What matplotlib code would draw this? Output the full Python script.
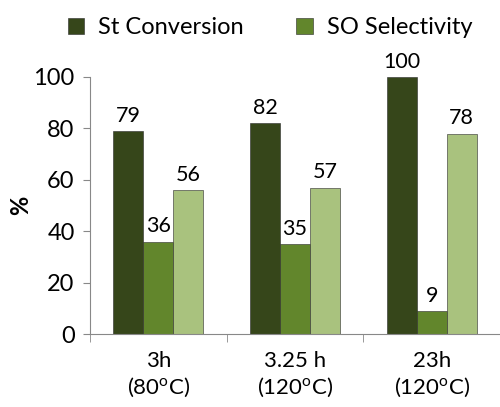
import numpy as np
import matplotlib.pyplot as plt

plt.rcParams['font.family'] = ['Lato', 'DejaVu Sans']
plt.rcParams['mathtext.default'] = 'regular'

groups = ['3h\n(80$^{o}$C)', '3.25 h\n(120$^{o}$C)', '23h\n(120$^{o}$C)']
st_conversion = [79, 82, 100]
so_selectivity = [36, 35, 9]
third_series = [56, 57, 78]

series = [st_conversion, so_selectivity, third_series]
names = ['St Conversion', 'SO Selectivity', '']
colors = ['#36461a', '#62862c', '#a9c27e']

fig = plt.figure(figsize=(5.0, 4.07), dpi=100)
ax = fig.add_axes([0.18, 0.179, 0.82, 0.632])

x = np.arange(len(groups))
w = 0.22
handles = []
for i, (vals, c) in enumerate(zip(series, colors)):
    pos = x + (i - 1) * w
    b = ax.bar(pos, vals, width=w, color=c, edgecolor='#2a2a2a', linewidth=0.4, zorder=2)
    handles.append(b)
    for p, v in zip(pos, vals):
        ax.text(p, v + 2, str(v), ha='center', va='bottom', fontsize=15.5, clip_on=False)

ax.set_xlim(-0.5, 2.5)
ax.set_ylim(0, 100)
ax.set_yticks(range(0, 101, 20))
ax.tick_params(axis='y', labelsize=17, length=5, color='#888888', pad=6)
ax.set_xticks(x)
ax.set_xticklabels(groups, fontsize=16, linespacing=1.25)
ax.tick_params(axis='x', length=0, pad=12)
ax.set_xticks([-0.5, 0.5, 1.5, 2.5], minor=True)
ax.tick_params(axis='x', which='minor', length=6, color='#888888')
ax.set_ylabel('%', fontsize=17, fontweight='bold', labelpad=1)

for s in ['top', 'right']:
    ax.spines[s].set_visible(False)
for s in ['left', 'bottom']:
    ax.spines[s].set_color('#888888')

fig.legend(handles[:2], names[:2], loc='upper center', bbox_to_anchor=(0.54, 1.01), ncol=2,
           frameon=False, fontsize=17, handlelength=0.7, handleheight=0.7, columnspacing=2.2,
           handletextpad=0.6)

fig.savefig('out.png', dpi=100)
